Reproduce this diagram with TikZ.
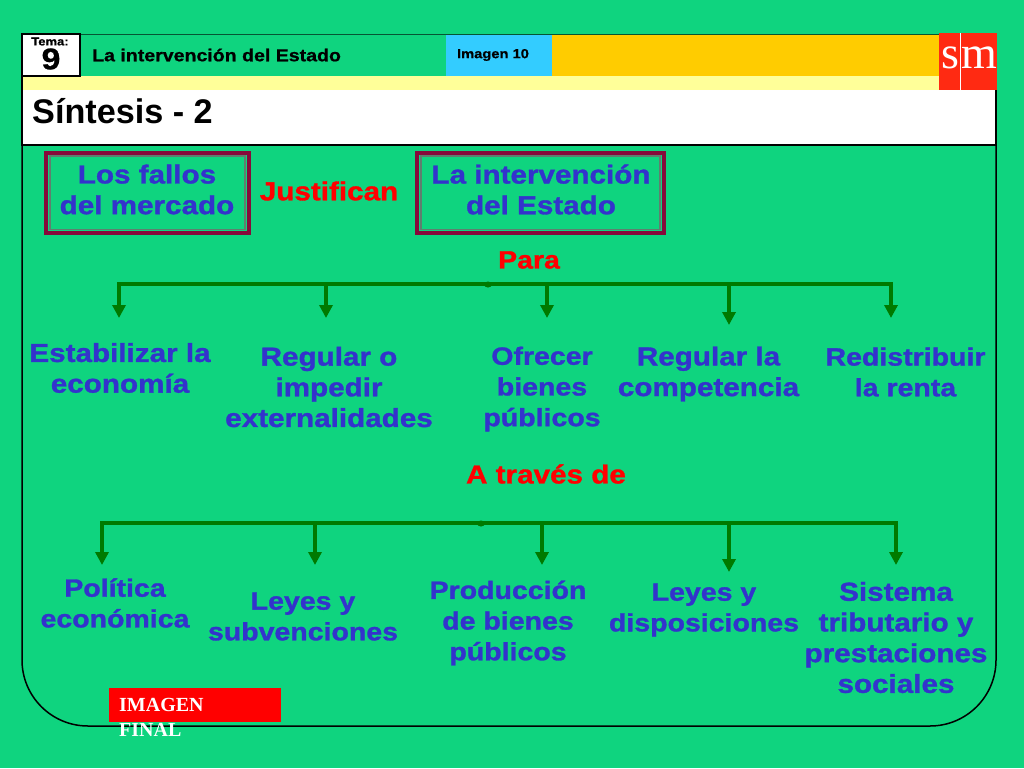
\documentclass[tikz,border=0pt]{standalone}
\usepackage{fontspec}
\setmainfont{Liberation Sans}
\newfontfamily\serifx{Liberation Serif}
\newfontfamily\spaced[FakeStretch=1.14,FakeBold=1.2]{Liberation Sans}
\newfontfamily\headf[FakeStretch=1.13,FakeBold=0.8]{Liberation Sans}
\definecolor{bg}{HTML}{0FD47F}
\definecolor{arrowg}{HTML}{007A00}
\definecolor{bluet}{HTML}{3333CC}
\definecolor{maroon}{HTML}{860A3A}
\definecolor{lineg}{HTML}{5F7F6F}
\definecolor{paley}{HTML}{FFFF99}
\definecolor{gold}{HTML}{FFCC00}
\definecolor{sky}{HTML}{33CCFF}
\definecolor{logor}{HTML}{FF2A12}
\usetikzlibrary{arrows.meta}
\tikzset{
 x=1pt,y=-1pt,
 lbl/.style={font=\spaced\bfseries\fontsize{26}{30.7}\selectfont,text=bluet,align=center,inner sep=0pt,anchor=center},
 lbl small/.style={lbl,font=\spaced\bfseries\fontsize{25}{30.7}\selectfont},
 red lbl/.style={font=\spaced\bfseries\fontsize{26}{30}\selectfont,text=red,inner sep=0pt,anchor=center},
 bus/.style={draw=arrowg,line width=3.8pt},
 drop/.style={draw=arrowg,line width=3.4pt,-{Triangle[length=13pt,width=13pt]}},
 dbl/.style={draw=maroon,line width=4pt},
 dblin/.style={draw=lineg,line width=1.6pt},
}
\begin{document}
\begin{tikzpicture}
\useasboundingbox (0,0) rectangle (1024,768);
\fill[bg] (0,0) rectangle (1024,768);
% frame
\draw[black,line width=1.5pt] (22,145) -- (22,660) arc[start angle=180,end angle=90,radius=66] -- (930,726) arc[start angle=90,end angle=0,radius=66] -- (996,145);
% header
\fill[paley] (23,76) rectangle (940,90);
\fill[white] (23,90) rectangle (995,144);
\draw[black,line width=1.2pt] (22,76) -- (22,145) -- (996,145) -- (996,90);
\fill[sky] (446,34) rectangle (552,76);
\fill[gold] (552,34) rectangle (940,76);
\draw[black!60!bg,line width=0.8pt] (80,34) -- (940,34);
\node[draw=black,fill=white,line width=1.2pt,minimum width=58pt,minimum height=42pt,inner sep=0pt] (tbox) at (51,55) {};
\node[inner sep=0pt,font=\headf\bfseries\fontsize{11.5}{12}\selectfont] (tema) at (50,41.5) {Tema:};
\node[inner sep=0pt,font=\headf\bfseries\fontsize{30}{30}\selectfont] (nine) at (51,59) {9};
\node[inner sep=0pt,anchor=west,font=\headf\bfseries\fontsize{17.3}{18}\selectfont] (title) at (92,55) {La intervención del Estado};
\node[inner sep=0pt,font=\headf\bfseries\fontsize{13}{15}\selectfont] (img) at (493,55) {Imagen 10};
\node[inner sep=0pt,anchor=west,font=\bfseries\fontsize{34.2}{36}\selectfont] (sint) at (32,111) {Síntesis - 2};
% logo
\node[fill=logor,minimum width=58pt,minimum height=57pt,inner sep=0pt] (logo) at (968,61.5) {};
\draw[white,line width=0.9pt] (960,33) -- (960,90);
\node[inner sep=0pt,anchor=base,text=white,font=\serifx\fontsize{46}{46}\selectfont] (logos) at (950,68) {s};
\node[inner sep=0pt,anchor=base,text=white,font=\serifx\fontsize{46}{46}\selectfont] (logom) at (979.5,68) {m};
% boxes
\draw[dbl] (46,152.5) rectangle (249,233);
\draw[dblin] (50,156) rectangle (245,229.5);
\node[lbl] (fallos) at (147,189.5) {Los fallos\\del mercado};
\draw[dbl] (417,152.5) rectangle (664,233);
\draw[dblin] (421,156) rectangle (660,229.5);
\node[lbl] (interv) at (541,189.5) {La intervención\\del Estado};
\node[red lbl] (just) at (329,191) {Justifican};
\node[red lbl,font=\spaced\bfseries\fontsize{25}{30}\selectfont] (para) at (529,260) {Para};
\node[red lbl] (atraves) at (546,474) {A través de};
% first row
\node[lbl] (a1) at (120,368) {Estabilizar la\\economía};
\node[lbl] (a2) at (329,387) {Regular o\\impedir\\externalidades};
\node[lbl small] (a3) at (542,389) {Ofrecer\\bienes\\públicos};
\node[lbl] (a4) at (708.5,374) {Regular la\\competencia};
\node[lbl small] (a5) at (905.5,372) {Redistribuir\\la renta};
% second row
\node[lbl small] (b1) at (115,603) {Política\\económica};
\node[lbl small] (b2) at (303,616.5) {Leyes y\\subvenciones};
\node[lbl small] (b3) at (508,623) {Producción\\de bienes\\públicos};
\node[lbl small] (b4) at (704,610) {Leyes y\\disposiciones};
\node[lbl] (b5) at (896,637.5) {Sistema\\tributario y\\prestaciones\\sociales};
% connectors
\coordinate (p0) at (119,284); \coordinate (p1) at (119,318);
\coordinate (p2s) at (326,284); \coordinate (p2) at (326,318);
\coordinate (p3s) at (547,284); \coordinate (p3) at (547,318);
\coordinate (p4s) at (729,284); \coordinate (p4) at (729,325);
\coordinate (p5s) at (891,284); \coordinate (p5) at (891,318);
\draw[bus,line cap=butt] (117.2,284) -- (892.8,284);
\fill[arrowg] (488,284.5) ellipse (4 and 3);
\draw[drop] (p0) -- (p1);
\draw[drop] (p2s) -- (p2);
\draw[drop] (p3s) -- (p3);
\draw[drop] (p4s) -- (p4);
\draw[drop] (p5s) -- (p5);
\coordinate (q1s) at (102,523); \coordinate (q1) at (102,565);
\coordinate (q2s) at (315,523); \coordinate (q2) at (315,565);
\coordinate (q3s) at (542,523); \coordinate (q3) at (542,565);
\coordinate (q4s) at (729,523); \coordinate (q4) at (729,572);
\coordinate (q5s) at (896,523); \coordinate (q5) at (896,565);
\draw[bus,line cap=butt] (100.2,523) -- (897.8,523);
\fill[arrowg] (481,523.5) ellipse (4 and 3);
\draw[drop] (q1s) -- (q1);
\draw[drop] (q2s) -- (q2);
\draw[drop] (q3s) -- (q3);
\draw[drop] (q4s) -- (q4);
\draw[drop] (q5s) -- (q5);
% final button
\node[fill=red,minimum width=172pt,minimum height=34pt,inner sep=0pt] (btn) at (195,705) {};
\node[inner sep=0pt,anchor=north west,text=white,align=left,font=\serifx\bfseries\fontsize{20}{25}\selectfont] (imgf) at (119,698) {IMAGEN\\FINAL};
\end{tikzpicture}
\end{document}
